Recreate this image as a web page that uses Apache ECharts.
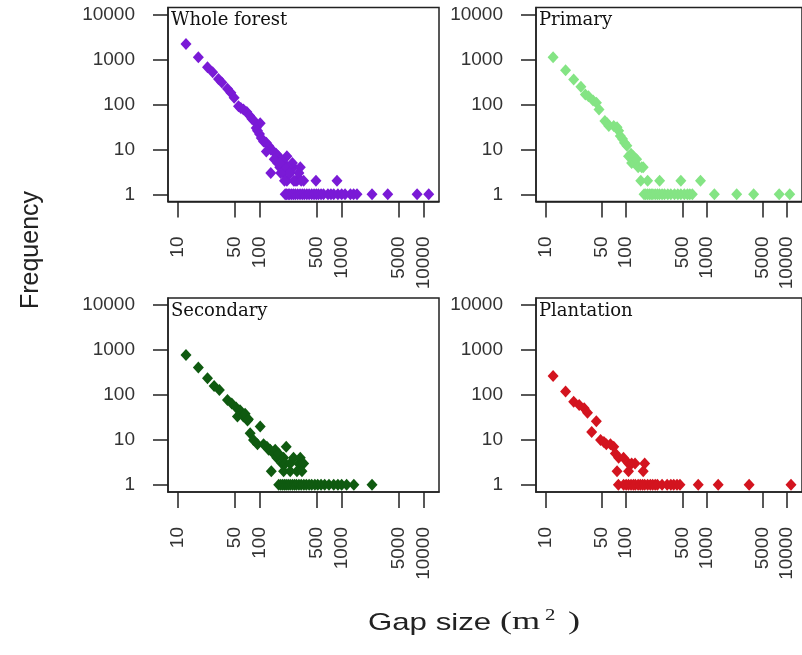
<!DOCTYPE html>
<html><head><meta charset="utf-8">
<script src="https://cdn.jsdelivr.net/npm/echarts@6/dist/echarts.min.js"></script>
<style>html,body{margin:0;padding:0;background:#fff}#c{width:802px;height:655px}</style>
</head><body><div id="c"></div>
<script>
const panelTitles = ['Whole forest', 'Primary', 'Secondary', 'Plantation'];
const xTickValues = [10, 50, 100, 500, 1000, 5000, 10000];
const yTickValues = [1, 10, 100, 1000, 10000];
const yAxisTitle = 'Frequency';
const xAxisTitle = 'Gap size';

// [gap size (m2), frequency]
const wholeForest = [
  [12.5,2230],[17.7,1130],[22.9,675],[26.5,520],[31.2,370],[34.3,310],[40.2,223],[44.2,182],[48.5,141],
  [54.8,92],[58.5,84],[63,77],[69.3,68],[74.7,57],[79.8,48],[85.3,43],[101,38],[90.2,30],[93.6,26],[99,22],
  [104,18],[111,15],[120,14],[128,12],[136,10],[147,9],[158,8],[169,7],[214,7],[120,9],[181,6],[136,3],
  [195,5],[195,3],[214,2],[235,3],[258,4],[312,4],[284,2],[343,2],[485,2],[877,2],[250,5],[220,4],[175,4],
  [200,4],[230,3],[270,2],[300,3],[260,2],[320,2],[200,2],[180,3],[165,5],[150,6],[175,5]
];
const wholeForestOnes = [204,212,222,232,245,258,272,290,310,330,350,375,400,430,460,490,520,560,600,680,740,800,900,1000,1100,1280,1400,1540,2350,3660,8360,11600];

const primary = [
  [12.3,1130],[17.6,580],[22.2,360],[27.3,247],[31,167],[33.9,153],[38.7,123],[42.6,109],[45.9,77],[54.3,43],
  [58,38],[60.8,33],[70,33],[77,31],[80.6,26],[84.5,20],[90.2,17],[95.3,14],[102,12],[107,7],[115,8],[123,7],
  [117,5],[129,5],[135,6],[141,4],[156,4],[163,4],[152,2],[185,2],[261,2],[480,2],[843,2]
];
const primaryOnes = [167,175,185,195,205,215,230,245,260,280,300,330,360,400,440,480,530,580,620,667,1255,2380,3870,8050,10900];

const secondary = [
  [12.5,774],[17.7,412],[22.9,235],[27.6,158],[32,129],[40.2,77],[45.3,65],[51.3,53],[57.2,46],[53.2,33],
  [63,33],[66,38],[70.6,27],[72.4,29],[101,20],[76.1,14],[83.6,10],[93.6,8],[111,8],[122,7],[128,6],[134,6],
  [147,5],[154,6],[161,4],[169,5],[186,3],[195,4],[205,3],[210,7],[235,3],[258,4],[298,3],[312,4],[327,3],
  [343,3],[138,2],[195,2],[284,2],[327,2],[235,2]
];
const secondaryOnes = [170,180,190,200,210,222,235,250,265,280,300,320,345,370,400,430,470,510,560,620,700,800,900,1000,1150,1410,2350];

const plantation = [
  [12.3,264],[17.6,119],[22.2,71],[26,60],[30,51],[33,40],[42.5,26],[37.2,15],[48,10],[52.8,9],[56.6,8],
  [63.7,8],[70,7],[73.4,5],[80.6,4],[92.7,4],[107,3],[117,3],[129,3],[77,2],[107,2],[163,2],[170,3]
];
const plantationOnes = [80,93,100,107,115,123,130,141,150,160,170,185,200,214,230,245,280,324,360,391,430,468,790,1400,3400,11300];

const panelData = [wholeForest, primary, secondary, plantation];
const panelOnes = [wholeForestOnes, primaryOnes, secondaryOnes, plantationOnes];
const panelColors = ['#7a1ad6', '#84e484', '#0f5a10', '#d3141f'];
const panelBoxes = [
  {left: 168, top: 7.5}, {left: 536, top: 7.5},
  {left: 168, top: 298}, {left: 536, top: 298}
];
const boxW = 271, boxH = 194;
const xMin = Math.pow(10, 0.877), xMax = Math.pow(10, 4.19);
const yMin = Math.pow(10, -0.16), yMax = Math.pow(10, 4.16);

const chart = echarts.init(document.getElementById('c'));
const grids = [], xAxes = [], yAxes = [], series = [], titles = [];
const lineCol = '#222', labCol = '#333';
for (let i = 0; i < 4; i++) {
  const b = panelBoxes[i];
  grids.push({left: b.left, top: b.top, width: boxW, height: boxH, show: true,
    borderColor: lineCol, borderWidth: 1.5, backgroundColor: 'transparent', containLabel: false});
  xAxes.push({type: 'log', gridIndex: i, min: xMin, max: xMax, logBase: 10,
    axisLine: {show: true, lineStyle: {color: lineCol, width: 1.5}},
    axisTick: {show: true, length: 16, lineStyle: {color: lineCol, width: 1.5}, customValues: xTickValues},
    axisLabel: {show: true, rotate: 90, margin: 35, fontSize: 19, fontFamily: '"Liberation Sans", Arial, sans-serif',
      color: labCol, customValues: xTickValues, formatter: v => String(Math.round(v))},
    splitLine: {show: false}, minorTick: {show: false}});
  yAxes.push({type: 'log', gridIndex: i, min: yMin, max: yMax, logBase: 10,
    axisLine: {show: true, lineStyle: {color: lineCol, width: 1.5}},
    axisTick: {show: true, length: 15, lineStyle: {color: lineCol, width: 1.5}, customValues: yTickValues},
    axisLabel: {show: true, margin: 33, fontSize: 19, fontFamily: '"Liberation Sans", Arial, sans-serif',
      color: labCol, customValues: yTickValues, formatter: v => String(Math.round(v))},
    splitLine: {show: false}});
  const pts = panelData[i].concat(panelOnes[i].map(g => [g, 1]));
  series.push({type: 'scatter', xAxisIndex: i, yAxisIndex: i, data: pts, symbol: 'diamond',
    symbolSize: [11, 12], itemStyle: {color: panelColors[i], opacity: 1}, clip: false, silent: true});
  titles.push({text: panelTitles[i], left: b.left + 3, top: b.top + 4, padding: 0,
    textStyle: {fontFamily: '"DejaVu Serif", serif', fontSize: 18, fontWeight: 'normal', color: '#111'}});
}

chart.setOption({
  animation: false,
  backgroundColor: '#fff',
  title: titles,
  grid: grids, xAxis: xAxes, yAxis: yAxes, series: series,
  graphic: [
    {type: 'text', x: 31, y: 250, rotation: Math.PI / 2,
      style: {text: yAxisTitle, font: '25px "Liberation Sans", Arial, sans-serif', fill: '#222',
        align: 'center', verticalAlign: 'middle', textAlign: 'center', textVerticalAlign: 'middle'}},
    {type: 'text', x: 368, y: 623, scaleX: 1.3,
      style: {text: xAxisTitle, font: '24px "Liberation Sans", Arial, sans-serif', fill: '#222',
        align: 'left', verticalAlign: 'middle', textAlign: 'left', textVerticalAlign: 'middle'}},
    {type: 'text', x: 500, y: 622, scaleX: 1.45,
      style: {text: '(m', font: '25px "Liberation Serif", serif', fill: '#222',
        align: 'left', verticalAlign: 'middle', textAlign: 'left', textVerticalAlign: 'middle'}},
    {type: 'text', x: 545, y: 616, scaleX: 1.3,
      style: {text: '2', font: '16px "Liberation Serif", serif', fill: '#222',
        align: 'left', verticalAlign: 'middle', textAlign: 'left', textVerticalAlign: 'middle'}},
    {type: 'text', x: 568, y: 622, scaleX: 1.45,
      style: {text: ')', font: '25px "Liberation Serif", serif', fill: '#222',
        align: 'left', verticalAlign: 'middle', textAlign: 'left', textVerticalAlign: 'middle'}}
  ]
});
</script>
</body></html>
